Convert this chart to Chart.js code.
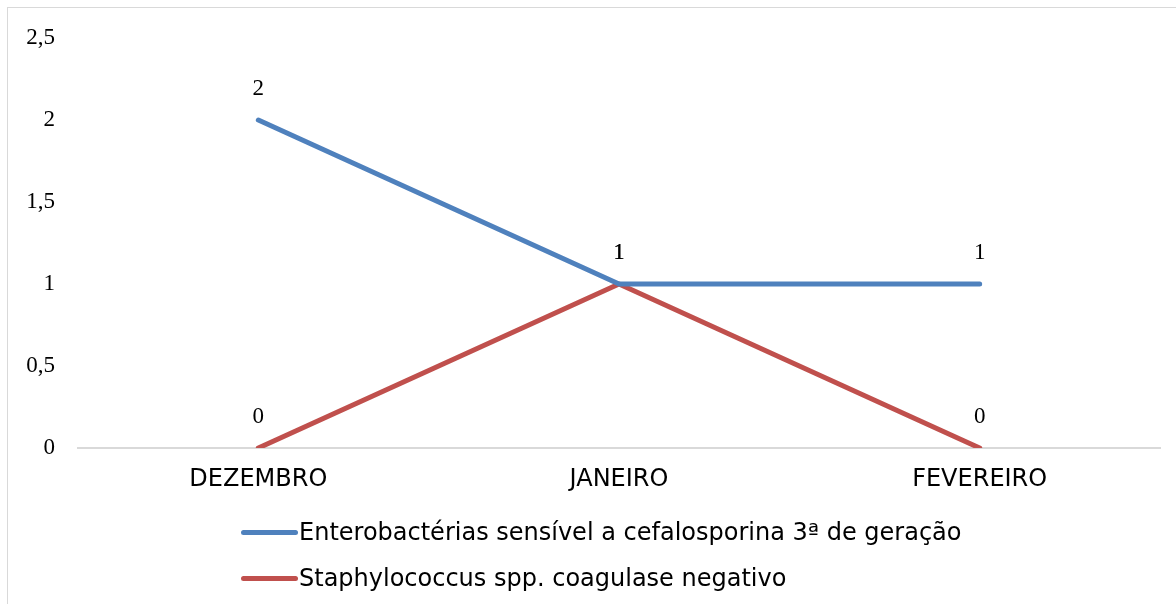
<!DOCTYPE html>
<html><head><meta charset="utf-8">
<script src="https://cdn.jsdelivr.net/npm/chart.js@4"></script>
<style>
html,body{margin:0;padding:0;background:#fff;}
#wrap{position:relative;width:1176px;height:604px;overflow:hidden;}
#frame{position:absolute;left:7px;top:7px;width:1180px;height:620px;border:1px solid #d9d9d9;box-sizing:border-box;}
canvas{position:absolute;left:0;top:0;}
#legend{position:absolute;left:241px;top:0;font-family:"DejaVu Sans",sans-serif;font-size:24px;color:#000;}
.item{position:absolute;left:0;display:flex;align-items:center;white-space:nowrap;}
.sw{display:inline-block;width:57px;height:5px;border-radius:3px;margin-right:1px;}
</style></head>
<body><div id="wrap"><div id="frame"></div><canvas id="c" width="1176" height="604"></canvas><div id="legend"></div></div>
<script>
const categories = ["DEZEMBRO", "JANEIRO", "FEVEREIRO"];
const seriesNames = ["Enterobactérias sensível a cefalosporina 3ª de geração", "Staphylococcus spp. coagulase negativo"];
const enterobacterias = [2, 1, 1];
const staphylococcus = [0, 1, 0];
const yTicks = [0, 0.5, 1, 1.5, 2, 2.5];
const colors = ["#4F81BD", "#C0504D"];

const labelPlugin = {
  id: 'dl',
  afterDatasetsDraw(chart) {
    const ctx = chart.ctx;
    ctx.save();
    ctx.font = '23px "Liberation Serif", serif';
    ctx.fillStyle = '#000';
    ctx.textAlign = 'center';
    ctx.textBaseline = 'middle';
    chart.data.datasets.forEach((ds, i) => {
      chart.getDatasetMeta(i).data.forEach((pt, j) => {
        ctx.fillText(String(ds.data[j]).replace('.', ','), pt.x, pt.y - 31);
      });
    });
    ctx.restore();
  }
};

new Chart(document.getElementById('c'), {
  type: 'line',
  data: {
    labels: categories,
    datasets: [
      { label: seriesNames[0], data: enterobacterias, borderColor: colors[0], backgroundColor: colors[0], borderWidth: 5, pointRadius: 0, tension: 0, borderCapStyle: 'round', borderJoinStyle: 'round' },
      { label: seriesNames[1], data: staphylococcus, borderColor: colors[1], backgroundColor: colors[1], borderWidth: 5, pointRadius: 0, tension: 0, borderCapStyle: 'round', borderJoinStyle: 'round' }
    ]
  },
  options: {
    responsive: false,
    animation: false,
    devicePixelRatio: 1,
    layout: { padding: { top: 38, right: 16, left: 0, bottom: 100 } },
    plugins: { legend: { display: false }, tooltip: { enabled: false } },
    scales: {
      x: {
        offset: true,
        grid: { display: false, drawTicks: false },
        border: { display: true, color: '#d9d9d9', width: 2 },
        ticks: { color: '#000', padding: 17, font: { family: '"DejaVu Sans", sans-serif', size: 24 } },
        afterFit(s) { s.height = 56; }
      },
      y: {
        min: 0, max: 2.5,
        afterBuildTicks(s) { s.ticks = yTicks.map(v => ({ value: v })); },
        grid: { display: false, drawTicks: false },
        border: { display: false },
        ticks: {
          color: '#000', padding: 23,
          font: { family: '"Liberation Serif", serif', size: 23 },
          callback: v => String(v).replace('.', ',')
        },
        afterFit(s) { s.width = 78; }
      }
    }
  },
  plugins: [labelPlugin]
});

const leg = document.getElementById('legend');
const tops = [532, 578];
seriesNames.forEach((n, i) => {
  const d = document.createElement('div');
  d.className = 'item';
  d.style.top = (tops[i] - 15) + 'px';
  d.style.height = '30px';
  d.innerHTML = '<span class="sw" style="background:' + colors[i] + '"></span><span></span>';
  d.lastChild.textContent = n;
  leg.appendChild(d);
});
</script></body></html>
